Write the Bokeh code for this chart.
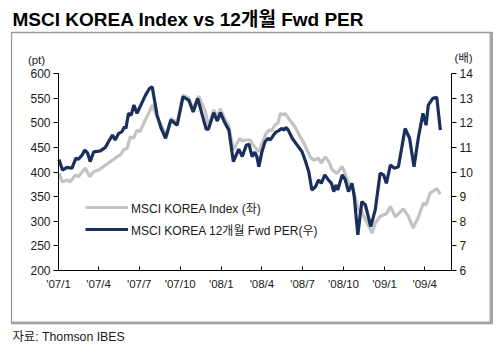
import pandas as pd
from bokeh.plotting import figure
from bokeh.models import (ColumnDataSource, Range1d, LinearAxis, FixedTicker, Label,
                          BoxAnnotation, Legend, LegendItem, Title)
from bokeh.embed import file_html
from bokeh.resources import INLINE

# ---------------- data ----------------
msci_dates = ["2007-01-02", "2007-01-10", "2007-01-20", "2007-01-27", "2007-02-08", "2007-02-15",
              "2007-03-02", "2007-03-12", "2007-03-21", "2007-04-01", "2007-04-12", "2007-04-27",
              "2007-05-08", "2007-05-20", "2007-05-27", "2007-06-04", "2007-06-11", "2007-06-18",
              "2007-06-26", "2007-07-03", "2007-07-11", "2007-07-22", "2007-07-30", "2007-08-10",
              "2007-08-25", "2007-08-31", "2007-09-10", "2007-09-24", "2007-10-07", "2007-10-20",
              "2007-10-30", "2007-11-11", "2007-11-26", "2007-12-03", "2007-12-15", "2007-12-23",
              "2007-12-30", "2008-01-08", "2008-01-18", "2008-01-28", "2008-02-11", "2008-02-17",
              "2008-02-27", "2008-03-06", "2008-03-12", "2008-03-25", "2008-04-01", "2008-04-10",
              "2008-04-17", "2008-04-23", "2008-04-30", "2008-05-07", "2008-05-12", "2008-05-20",
              "2008-05-23", "2008-06-03", "2008-06-14", "2008-06-22", "2008-07-03", "2008-07-18",
              "2008-07-26", "2008-08-06", "2008-08-12", "2008-08-21", "2008-08-29", "2008-09-06",
              "2008-09-16", "2008-09-28", "2008-10-04", "2008-10-12", "2008-10-20", "2008-11-03",
              "2008-11-09", "2008-11-16", "2008-12-04", "2008-12-11", "2008-12-22", "2009-01-05",
              "2009-01-14", "2009-01-25", "2009-02-12", "2009-02-24", "2009-03-06", "2009-03-18",
              "2009-03-29", "2009-04-04", "2009-04-13", "2009-04-28", "2009-05-06"]
msci_values = [397, 380, 384, 380, 394, 391,
               408, 391, 401, 404, 411, 421,
               428, 435, 445, 448, 472, 468,
               485, 482, 499, 519, 536, 512,
               485, 473, 509, 501, 556, 550,
               528, 554, 524, 493, 526, 512,
               528, 509, 493, 445, 468, 463,
               465, 465, 455, 441, 457, 478,
               485, 484, 495, 499, 519, 516,
               519, 505, 492, 478, 461, 431,
               424, 428, 418, 431, 421, 404,
               397, 411, 398, 377, 374, 323,
               323, 309, 276, 296, 310, 315,
               330, 309, 325, 309, 286, 309,
               337, 333, 357, 366, 355]

per_dates = ["2007-01-02", "2007-01-10", "2007-01-20", "2007-01-31", "2007-02-09", "2007-02-14",
             "2007-02-23", "2007-03-01", "2007-03-07", "2007-03-13", "2007-03-21", "2007-04-05",
             "2007-04-16", "2007-04-23", "2007-05-02", "2007-05-08", "2007-05-16", "2007-05-23",
             "2007-05-29", "2007-06-01", "2007-06-07", "2007-06-13", "2007-06-19", "2007-06-26",
             "2007-07-01", "2007-07-08", "2007-07-15", "2007-07-24", "2007-07-30", "2007-08-10",
             "2007-08-19", "2007-08-29", "2007-09-10", "2007-09-24", "2007-10-07", "2007-10-20",
             "2007-10-30", "2007-11-09", "2007-11-28", "2007-12-03", "2007-12-15", "2007-12-23",
             "2007-12-30", "2008-01-08", "2008-01-18", "2008-01-28", "2008-02-09", "2008-02-17",
             "2008-02-26", "2008-03-03", "2008-03-10", "2008-03-16", "2008-03-21", "2008-03-25",
             "2008-04-01", "2008-04-08", "2008-04-15", "2008-04-20", "2008-04-27", "2008-05-03",
             "2008-05-08", "2008-05-16", "2008-05-20", "2008-05-25", "2008-05-30", "2008-06-08",
             "2008-06-19", "2008-06-30", "2008-07-08", "2008-07-15", "2008-07-22", "2008-07-30",
             "2008-08-06", "2008-08-12", "2008-08-20", "2008-08-28", "2008-09-04", "2008-09-09",
             "2008-09-14", "2008-09-18", "2008-09-28", "2008-10-05", "2008-10-12", "2008-10-20",
             "2008-10-25", "2008-11-02", "2008-11-11", "2008-11-19", "2008-12-01", "2008-12-11",
             "2008-12-22", "2008-12-30", "2009-01-05", "2009-01-14", "2009-01-23", "2009-02-01",
             "2009-02-16", "2009-02-26", "2009-03-08", "2009-03-18", "2009-03-28", "2009-04-04",
             "2009-04-09", "2009-04-19", "2009-04-28", "2009-05-06"]
per_values = [10.51, 10.08, 10.19, 10.15, 10.56, 10.51,
              10.69, 10.89, 10.78, 10.42, 10.82, 10.86,
              11.00, 11.23, 11.50, 11.30, 11.57, 11.63,
              11.84, 11.77, 12.38, 12.31, 12.72, 12.38,
              12.58, 12.85, 13.12, 13.39, 13.46, 12.31,
              11.78, 11.37, 12.11, 11.90, 13.05, 12.92,
              12.44, 12.99, 11.74, 11.74, 12.41, 12.07,
              12.41, 12.03, 11.70, 10.42, 10.93, 10.63,
              11.09, 11.13, 10.62, 10.81, 10.61, 10.21,
              10.82, 11.23, 11.37, 11.30, 11.50, 11.63,
              11.67, 11.77, 11.70, 11.81, 11.70, 11.37,
              11.09, 10.82, 10.42, 10.01, 9.27, 9.40,
              9.68, 9.54, 9.88, 9.68, 9.54, 9.20,
              9.47, 9.27, 9.88, 9.68, 9.20, 9.54,
              9.00, 7.45, 8.80, 8.66, 7.78, 8.46,
              9.95, 9.88, 9.54, 10.28, 10.15, 10.21,
              11.77, 11.37, 10.21, 11.43, 12.38, 11.90,
              12.72, 12.99, 13.03, 11.70]

tick_dates = ["2007-01-01", "2007-04-01", "2007-07-01", "2007-10-01", "2008-01-01",
              "2008-04-01", "2008-07-01", "2008-10-01", "2009-01-01", "2009-04-01"]
tick_labels = ["'07/1", "'07/4", "'07/7", "'07/10", "'08/1",
               "'08/4", "'08/7", "'08/10", "'09/1", "'09/4"]

left_ticks = [200, 250, 300, 350, 400, 450, 500, 550, 600]
right_ticks = [6, 7, 8, 9, 10, 11, 12, 13, 14]

title_text = "MSCI KOREA Index vs 12개월 Fwd PER"
source_text = "자료: Thomson IBES"
msci_label = "MSCI KOREA Index (좌)"
per_label = "MSCI KOREA 12개월 Fwd PER(우)"

# ---------------- layout constants ----------------
FONT = "'Liberation Sans', 'Noto Sans CJK KR', sans-serif"
TXT = "#1a1a1a"
x0 = pd.Timestamp("2007-01-01")   # left axis position
x1 = pd.Timestamp("2009-05-31")   # right axis position
y0, y1 = 200, 600                 # left axis extent
r0, r1 = 6, 14                    # right axis extent

FRAME_W, FRAME_H = 481, 291       # boxed frame
AX_L, AX_R = 47, 41               # pixels from frame edge to axis lines
AX_T, AX_B = 41, 53               # pixels from frame edge to top / bottom of axes

px_per_day = (FRAME_W - AX_L - AX_R) / (x1 - x0).days
px_per_unit = (FRAME_H - AX_T - AX_B) / (y1 - y0)
xr_start = x0 - pd.Timedelta(days=AX_L / px_per_day)
xr_end = x1 + pd.Timedelta(days=AX_R / px_per_day)
yr_start = y0 - AX_B / px_per_unit
yr_end = y1 + AX_T / px_per_unit
k = (r1 - r0) / (y1 - y0)
rr_start = r0 + (yr_start - y0) * k
rr_end = r0 + (yr_end - y0) * k

msci_src = ColumnDataSource(dict(x=pd.to_datetime(msci_dates), y=msci_values))
per_src = ColumnDataSource(dict(x=pd.to_datetime(per_dates), y=per_values))

p = figure(frame_width=FRAME_W, frame_height=FRAME_H, x_axis_type="datetime",
           x_range=Range1d(xr_start, xr_end), y_range=Range1d(yr_start, yr_end),
           output_backend="svg", toolbar_location=None,
           min_border_left=11, min_border_right=1, min_border_top=32, min_border_bottom=25)
p.extra_y_ranges = {"per": Range1d(rr_start, rr_end)}
p.grid.visible = False
p.outline_line_color = "#9a9a9a"
p.outline_line_width = 1.3
p.background_fill_color = "white"
p.border_fill_color = "white"

gray_r = p.line("x", "y", source=msci_src, line_color="#c3c3c3", line_width=3.2)
navy_r = p.line("x", "y", source=per_src, y_range_name="per", line_color="#1b2f5c", line_width=3.2)

x0_ms = x0.value / 1e6
x1_ms = x1.value / 1e6
tick_ms = [pd.Timestamp(d).value / 1e6 for d in tick_dates]

xa = p.xaxis[0]
xa.ticker = FixedTicker(ticks=tick_ms)
xa.major_label_overrides = {t: l for t, l in zip(tick_ms, tick_labels)}
xa.fixed_location = y0
xa.bounds = (x0_ms, x1_ms)
xa.major_tick_in = 4
xa.major_tick_out = 0
xa.minor_tick_line_color = None
xa.axis_line_color = "black"
xa.major_tick_line_color = "black"
xa.major_label_standoff = 7
xa.major_label_text_font = FONT
xa.major_label_text_font_size = "11.5px"
xa.major_label_text_color = TXT

ya = p.yaxis[0]
ya.ticker = FixedTicker(ticks=left_ticks)
ya.fixed_location = x0_ms
ya.bounds = (y0, y1)
ya.major_tick_in = 0
ya.major_tick_out = 5
ya.minor_tick_line_color = None
ya.axis_line_color = "black"
ya.major_tick_line_color = "black"
ya.major_label_standoff = 3
ya.major_label_text_font = FONT
ya.major_label_text_font_size = "12px"
ya.major_label_text_color = TXT

ra = LinearAxis(y_range_name="per", ticker=FixedTicker(ticks=right_ticks))
ra.fixed_location = x1_ms
ra.bounds = (r0, r1)
ra.major_tick_in = 0
ra.major_tick_out = 5
ra.minor_tick_line_color = None
ra.axis_line_color = "black"
ra.major_tick_line_color = "black"
ra.major_label_standoff = 3
ra.major_label_text_font = FONT
ra.major_label_text_font_size = "12px"
ra.major_label_text_color = TXT
p.add_layout(ra, "right")

legend = Legend(items=[LegendItem(label=msci_label, renderers=[gray_r]),
                       LegendItem(label=per_label, renderers=[navy_r])],
                location=(74, 84), orientation="vertical",
                glyph_width=43, glyph_height=20, label_height=20, spacing=2,
                label_standoff=3, padding=0, margin=0,
                border_line_color=None, background_fill_alpha=0,
                label_text_font=FONT, label_text_font_size="12px", label_text_color=TXT)
p.add_layout(legend)

# darker shadow on the right / bottom edge of the box
p.add_layout(BoxAnnotation(left=FRAME_W - 3, right=FRAME_W, top=FRAME_H, bottom=0,
                           left_units="screen", right_units="screen",
                           top_units="screen", bottom_units="screen",
                           fill_color="#a8a8a8", fill_alpha=1, line_color=None))
p.add_layout(BoxAnnotation(left=0, right=FRAME_W, top=2, bottom=0,
                           left_units="screen", right_units="screen",
                           top_units="screen", bottom_units="screen",
                           fill_color="#a8a8a8", fill_alpha=1, line_color=None))

p.add_layout(Label(x=25, y=264, x_units="screen", y_units="screen", text="(pt)",
                   text_font=FONT, text_font_size="11.5px", text_color=TXT,
                   text_baseline="middle", text_align="center"))
p.add_layout(Label(x=452, y=266, x_units="screen", y_units="screen", text="(배)",
                   text_font=FONT, text_font_size="11.5px", text_color=TXT,
                   text_baseline="middle", text_align="center"))

p.add_layout(Title(text=title_text, align="left", offset=1, standoff=6,
                   text_font=FONT, text_font_size="19px", text_font_style="bold",
                   text_color="black"), "above")
p.add_layout(Title(text=source_text, align="left", offset=1, standoff=9,
                   text_font=FONT, text_font_size="12.3px", text_font_style="normal",
                   text_color=TXT), "below")

open("out.html", "w").write(file_html(p, INLINE))
